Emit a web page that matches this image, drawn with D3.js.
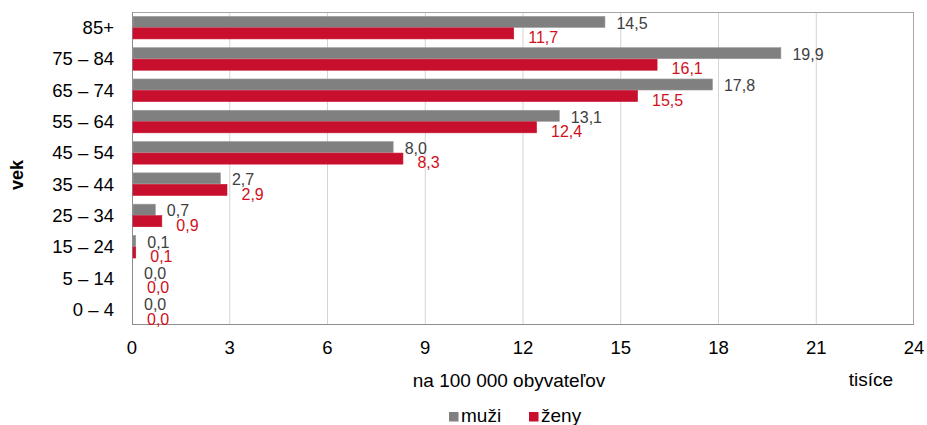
<!DOCTYPE html>
<html>
<head>
<meta charset="utf-8">
<script src="https://cdn.jsdelivr.net/npm/d3@7"></script>
<style>
  html, body { margin: 0; padding: 0; background: #fff; }
  svg { display: block; font-family: "Liberation Sans", Arial, sans-serif; }
</style>
</head>
<body>
<svg id="chart" width="927" height="425"></svg>
<script>
const categories = ["85+", "75 – 84", "65 – 74", "55 – 64", "45 – 54", "35 – 44", "25 – 34", "15 – 24", "5 – 14", "0 – 4"];
const muzi = [14.5, 19.9, 17.8, 13.1, 8.0, 2.7, 0.7, 0.1, 0.0, 0.0];
const zeny = [11.7, 16.1, 15.5, 12.4, 8.3, 2.9, 0.9, 0.1, 0.0, 0.0];
const xTicks = [0, 3, 6, 9, 12, 15, 18, 21, 24];
const seriesNames = ["muži", "ženy"];

const svg = d3.select("#chart");
const plot = { left: 132, right: 914, top: 12, bottom: 325 };
const GRAY = "#808080", RED = "#c8102e";
const GRAY_TXT = "#404040", RED_TXT = "#d0101c";

const x = d3.scaleLinear().domain([0, 24]).range([plot.left, plot.right]);
const y = d3.scaleBand().domain(categories).range([plot.top, plot.bottom]).paddingInner(0.28).paddingOuter(0.14);
const sub = d3.scaleBand().domain(seriesNames).range([0, y.bandwidth()]).paddingInner(0.04);

// gridlines
svg.append("g").selectAll("line").data(xTicks.slice(1, -1)).join("line")
  .attr("x1", d => x(d)).attr("x2", d => x(d))
  .attr("y1", plot.top).attr("y2", plot.bottom)
  .attr("stroke", "#d4d4d4").attr("stroke-width", 1);

// plot border
svg.append("rect")
  .attr("x", plot.left + 0.5).attr("y", plot.top + 0.5)
  .attr("width", plot.right - plot.left - 1).attr("height", plot.bottom - plot.top - 1)
  .attr("fill", "none").attr("stroke", "#a6a6a6");
svg.append("line").attr("x1", plot.left + 0.5).attr("x2", plot.left + 0.5)
  .attr("y1", plot.top).attr("y2", plot.bottom).attr("stroke", "#8c8c8c");
svg.append("line").attr("x1", plot.left).attr("x2", plot.right)
  .attr("y1", plot.bottom - 0.5).attr("y2", plot.bottom - 0.5).attr("stroke", "#8c8c8c");

const series = [
  { name: "muži", values: muzi, fill: GRAY, stroke: "#9a9a9a", txt: GRAY_TXT, dx: 12, dy: 1 },
  { name: "ženy", values: zeny, fill: RED, stroke: RED, txt: RED_TXT, dx: 15, dy: 4 }
];

const fmt = v => v.toFixed(1).replace(".", ",");

series.forEach(s => {
  const g = svg.append("g");
  g.selectAll("rect").data(s.values).join("rect")
    .attr("x", x(0) + 1)
    .attr("y", (d, i) => y(categories[i]) + sub(s.name))
    .attr("width", d => Math.max(0, x(d) - x(0) - (d > 0 ? 0.5 : 0)))
    .attr("height", sub.bandwidth())
    .attr("fill", s.fill)
    .attr("stroke", d => d > 0 ? s.stroke : "none")
    .attr("stroke-width", 0.6);
  g.selectAll("text").data(s.values).join("text")
    .attr("x", d => x(d) + s.dx)
    .attr("y", (d, i) => y(categories[i]) + sub(s.name) + sub.bandwidth() / 2 + s.dy + 5.7)
    .attr("font-size", 16)
    .attr("fill", s.txt)
    .text(d => fmt(d));
});

// y labels
svg.append("g").selectAll("text").data(categories).join("text")
  .attr("x", 114)
  .attr("y", d => y(d) + y.bandwidth() / 2 + 6.5)
  .attr("text-anchor", "end")
  .attr("font-size", 18.5)
  .attr("fill", "#000")
  .text(d => d);

// x tick labels
svg.append("g").selectAll("text").data(xTicks).join("text")
  .attr("x", d => x(d))
  .attr("y", 354)
  .attr("text-anchor", "middle")
  .attr("font-size", 18.5)
  .attr("fill", "#000")
  .text(d => d);

// axis titles
svg.append("text").attr("x", 509).attr("y", 387).attr("text-anchor", "middle")
  .attr("font-size", 19).attr("fill", "#000").text("na 100 000 obyvateľov");
svg.append("text").attr("x", 871).attr("y", 386).attr("text-anchor", "middle")
  .attr("font-size", 19).attr("fill", "#000").text("tisíce");
svg.append("text").attr("transform", "translate(23,175) rotate(-90)")
  .attr("text-anchor", "middle").attr("font-size", 18).attr("font-weight", "bold")
  .attr("fill", "#000").text("vek");

// legend
const legend = [
  { name: seriesNames[0], fill: GRAY, x: 449 },
  { name: seriesNames[1], fill: RED, x: 529 }
];
const lg = svg.append("g");
legend.forEach(l => {
  lg.append("rect").attr("x", l.x).attr("y", 412).attr("width", 9.5).attr("height", 9.5).attr("fill", l.fill);
  lg.append("text").attr("x", l.x + 12).attr("y", 422).attr("font-size", 19).attr("fill", "#000").text(l.name);
});
</script>
</body>
</html>
